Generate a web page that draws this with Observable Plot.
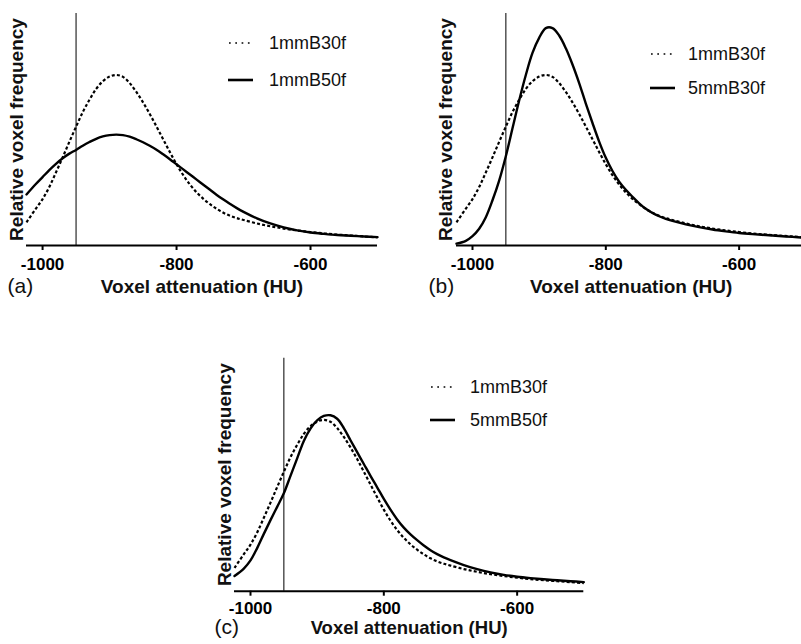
<!DOCTYPE html>
<html><head><meta charset="utf-8">
<script src="https://cdn.jsdelivr.net/npm/d3@7"></script>
<script src="https://cdn.jsdelivr.net/npm/@observablehq/plot@0.6"></script>
<style>
html,body{margin:0;padding:0;background:#fff;overflow:hidden;}
#root{position:relative;width:801px;height:644px;overflow:hidden;font-family:"Liberation Sans",Arial,sans-serif;}
.panel{position:absolute;}
.lg{position:absolute;font-size:18px;line-height:20px;color:#111;white-space:nowrap;}
.lgs{position:absolute;}
</style></head><body><div id="root"></div>
<script>
// Voxel attenuation (HU) sample points
const hu = [-1024,-1010,-1000,-990,-980,-970,-960,-950,-940,-930,-920,-910,-900,-890,-880,-870,-860,-850,-840,-830,-820,-810,-800,-790,-780,-770,-760,-750,-740,-730,-720,-710,-700,-680,-660,-640,-620,-600,-580,-560,-540,-520,-500];
// Relative voxel frequency (fraction of plot height)
const s1mmB30f = [0.10,0.159,0.20,0.252,0.315,0.38,0.447,0.512,0.575,0.628,0.675,0.708,0.728,0.735,0.727,0.70,0.662,0.617,0.567,0.513,0.458,0.403,0.35,0.303,0.263,0.229,0.201,0.178,0.158,0.141,0.128,0.118,0.11,0.095,0.083,0.073,0.065,0.058,0.052,0.047,0.043,0.039,0.035];
const s1mmB50f = [0.22,0.265,0.295,0.325,0.352,0.376,0.396,0.412,0.43,0.446,0.46,0.47,0.476,0.478,0.476,0.469,0.458,0.445,0.43,0.413,0.393,0.372,0.35,0.328,0.306,0.284,0.262,0.24,0.218,0.198,0.179,0.161,0.145,0.117,0.095,0.078,0.065,0.056,0.05,0.045,0.042,0.039,0.036];
const s5mmB30f = [0.008,0.02,0.04,0.072,0.122,0.195,0.28,0.385,0.505,0.625,0.735,0.83,0.895,0.937,0.937,0.905,0.85,0.78,0.70,0.612,0.528,0.448,0.378,0.321,0.275,0.24,0.21,0.182,0.158,0.14,0.126,0.115,0.106,0.091,0.079,0.069,0.061,0.054,0.049,0.045,0.041,0.037,0.033];
const s5mmB50f = [0.065,0.097,0.132,0.185,0.246,0.305,0.362,0.42,0.495,0.57,0.645,0.698,0.733,0.752,0.755,0.74,0.70,0.648,0.597,0.546,0.495,0.446,0.396,0.35,0.308,0.273,0.244,0.219,0.196,0.176,0.159,0.145,0.133,0.112,0.095,0.081,0.07,0.062,0.056,0.051,0.047,0.043,0.039];
const xTicks = [-1000,-800,-600];
const threshold = [-950];
const xLabel = "Voxel attenuation (HU)";
const yLabel = "Relative voxel frequency";
const panels = [
  {tag:"(a)", ref:"1mmB30f", cmp:"1mmB50f", cmpVals:s1mmB50f},
  {tag:"(b)", ref:"1mmB30f", cmp:"5mmB30f", cmpVals:s5mmB30f},
  {tag:"(c)", ref:"1mmB30f", cmp:"5mmB50f", cmpVals:s5mmB50f}
];

const FONT = '"Liberation Sans", Arial, sans-serif';
const layout = [
  {left:0, top:0, width:400, height:310, ml:26, mr:23, mt:13, mb:65, ylDx:-10, tagDx:-19, titleDy:47, pad:7, tfs:19,
   lg:{sx:228, tx:269, y:[43,80]}},
  {left:420, top:0, width:400, height:310, ml:36, mr:14.7, mt:13, mb:65, ylDx:-11, tagDx:-28, titleDy:47, pad:7, tfs:19,
   lg:{sx:650, tx:688, y:[53.5,88]}},
  {left:200, top:340, width:400, height:304, ml:34, mr:16.7, mt:17.7, mb:53.3, ylDx:-9.5, tagDx:-20, titleDy:43, pad:6, tfs:18.5,
   lg:{sx:430, tx:470, y:[386.7,420]}}
];

const root = document.getElementById("root");
const refData = hu.map((h,i)=>({hu:h, v:s1mmB30f[i]}));

panels.forEach((p, k) => {
  const L = layout[k];
  const cmpData = hu.map((h,i)=>({hu:h, v:p.cmpVals[i]}));
  const chart = Plot.plot({
    width: L.width, height: L.height,
    marginLeft: L.ml, marginRight: L.mr, marginTop: L.mt, marginBottom: L.mb,
    x: {domain: [-1024, -500]},
    y: {domain: [0, 1], axis: null},
    style: {fontFamily: FONT, background: "transparent", overflow: "visible", color: "#000"},
    marks: [
      Plot.ruleX(threshold, {stroke: "#3a3a3a", strokeWidth: 1.3}),
      Plot.line(refData, {x: "hu", y: "v", stroke: "#000", strokeWidth: 2.2, strokeDasharray: "3,2.2", strokeLinecap: "butt", curve: "catmull-rom"}),
      Plot.line(cmpData, {x: "hu", y: "v", stroke: "#000", strokeWidth: 2.4, curve: "catmull-rom"}),
      Plot.ruleY([0], {stroke: "#000", strokeWidth: 2}),
      Plot.axisX({ticks: xTicks, tickFormat: d => String(d), tickSize: 5, tickPadding: L.pad, fontSize: 17, fontWeight: "bold", strokeWidth: 2, label: null}),
      Plot.text([yLabel], {text: d => d, frameAnchor: "left", textAnchor: "middle", rotate: -90, dx: L.ylDx, fontSize: 19, fontWeight: "bold", fill: "#111"}),
      Plot.text([xLabel], {text: d => d, frameAnchor: "bottom", dy: L.titleDy, fontSize: L.tfs, fontWeight: "bold", fill: "#111"}),
      Plot.text([p.tag], {text: d => d, frameAnchor: "bottom-left", dx: L.tagDx, dy: L.titleDy, textAnchor: "start", fontSize: 21, fill: "#111"})
    ]
  });
  chart.classList.add("panel");
  chart.style.left = L.left + "px";
  chart.style.top = L.top + "px";
  root.appendChild(chart);

  // legend
  const entries = [{name: p.ref, dash: "1.7,4.6", w: 1.7}, {name: p.cmp, dash: null, w: 2.6}];
  entries.forEach((e, j) => {
    const y = L.lg.y[j];
    const svgNS = "http://www.w3.org/2000/svg";
    const s = document.createElementNS(svgNS, "svg");
    s.setAttribute("width", 26); s.setAttribute("height", 10);
    s.setAttribute("class", "lgs");
    s.style.left = L.lg.sx + "px"; s.style.top = (y - 5) + "px";
    const ln = document.createElementNS(svgNS, "line");
    ln.setAttribute("x1", e.dash ? 1 : 0); ln.setAttribute("x2", 25); ln.setAttribute("y1", 5); ln.setAttribute("y2", 5);
    ln.setAttribute("stroke", "#000"); ln.setAttribute("stroke-width", e.w);
    if (e.dash) ln.setAttribute("stroke-dasharray", e.dash);
    s.appendChild(ln);
    root.appendChild(s);
    const t = document.createElement("div");
    t.className = "lg";
    t.textContent = e.name;
    t.style.left = L.lg.tx + "px"; t.style.top = (y - 10) + "px";
    root.appendChild(t);
  });
});
</script></body></html>
